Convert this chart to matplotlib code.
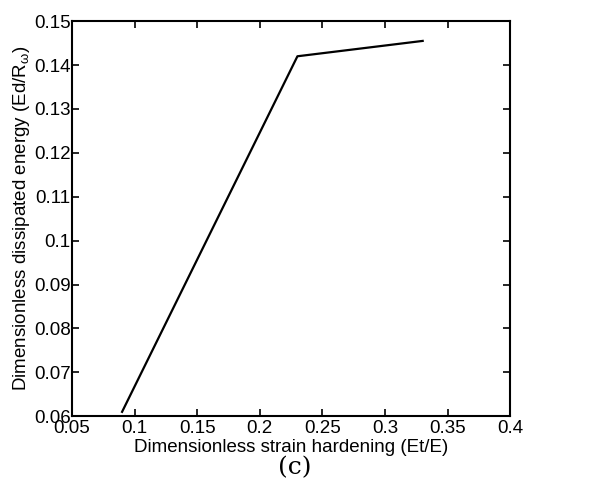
import matplotlib
matplotlib.use('Agg')
import matplotlib.pyplot as plt

# values
strain_hardening = [0.09, 0.23, 0.33]
dissipated_energy = [0.061, 0.142, 0.1455]
xticks = [0.05, 0.1, 0.15, 0.2, 0.25, 0.3, 0.35, 0.4]
yticks = [0.06, 0.07, 0.08, 0.09, 0.1, 0.11, 0.12, 0.13, 0.14, 0.15]

plt.rcParams['font.family'] = ['Liberation Sans', 'DejaVu Sans']
plt.rcParams['mathtext.fontset'] = 'custom'
plt.rcParams['mathtext.rm'] = 'Liberation Sans'
plt.rcParams['mathtext.it'] = 'Liberation Sans'

fig = plt.figure(figsize=(5.9, 4.92), dpi=100)
ax = fig.add_axes([0.122, 0.154, 0.743, 0.803])

ax.plot(strain_hardening, dissipated_energy, color='black', lw=1.6)

ax.set_xlim(0.05, 0.4)
ax.set_ylim(0.06, 0.15)
ax.set_xticks(xticks)
ax.set_xticklabels([f'{v:g}' for v in xticks])
ax.set_yticks(yticks)
ax.set_yticklabels([f'{v:g}' for v in yticks])
ax.tick_params(direction='in', top=True, right=True, length=5, width=1.2,
               labelsize=13.5)
ax.tick_params(axis='x', pad=3)
ax.tick_params(axis='y', pad=1)
for s in ax.spines.values():
    s.set_linewidth(1.5)

ax.set_xlabel('Dimensionless strain hardening (Et/E)', fontsize=13.5, labelpad=1)
ax.set_ylabel(r'Dimensionless dissipated energy (Ed/R$_\omega$)', fontsize=13.5, labelpad=1)

fig.text(0.5, 0.05, '(c)', fontsize=18, family='DejaVu Serif', ha='center', va='center')

fig.savefig('out.png', dpi=100)
